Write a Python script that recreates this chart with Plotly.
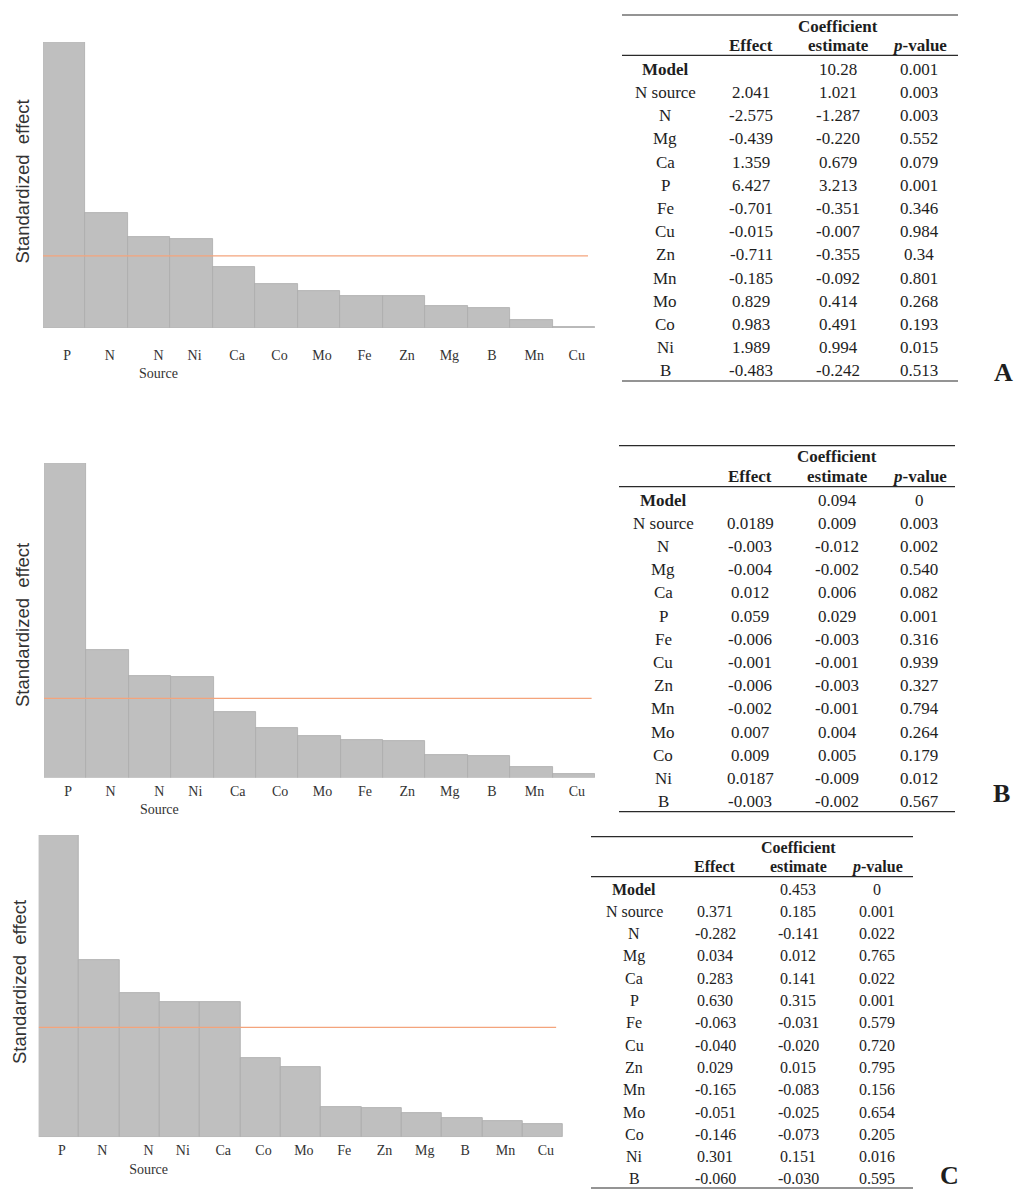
import plotly.graph_objects as go

W, H = 1021, 1190

# ---- Pareto charts of standardized effects (bars sorted as plotted) ----
bar_labels = ["P", "N", "N<br>Source", "Ni", "Ca", "Co", "Mo", "Fe", "Zn", "Mg", "B", "Mn", "Cu"]

effect_a = [7.94, 3.20, 2.54, 2.47, 1.69, 1.22, 1.04, 0.90, 0.88, 0.62, 0.56, 0.23, 0.03]
effect_b = [7.94, 3.23, 2.56, 2.55, 1.66, 1.26, 1.05, 0.95, 0.92, 0.58, 0.55, 0.26, 0.09]
effect_c = [5.50, 3.23, 2.63, 2.47, 2.47, 1.45, 1.28, 0.56, 0.53, 0.44, 0.36, 0.30, 0.25]

threshold_a = 2.0
threshold_b = 2.0
threshold_c = 2.0

# ---- Regression tables ----
row_names = ["Model", "N source", "N", "Mg", "Ca", "P", "Fe", "Cu", "Zn", "Mn", "Mo", "Co", "Ni", "B"]

a_effect = ["", "2.041", "-2.575", "-0.439", "1.359", "6.427", "-0.701", "-0.015", "-0.711",
            "-0.185", "0.829", "0.983", "1.989", "-0.483"]
a_coef = ["10.28", "1.021", "-1.287", "-0.220", "0.679", "3.213", "-0.351", "-0.007", "-0.355",
          "-0.092", "0.414", "0.491", "0.994", "-0.242"]
a_pval = ["0.001", "0.003", "0.003", "0.552", "0.079", "0.001", "0.346", "0.984", "0.34",
          "0.801", "0.268", "0.193", "0.015", "0.513"]

b_effect = ["", "0.0189", "-0.003", "-0.004", "0.012", "0.059", "-0.006", "-0.001", "-0.006",
            "-0.002", "0.007", "0.009", "0.0187", "-0.003"]
b_coef = ["0.094", "0.009", "-0.012", "-0.002", "0.006", "0.029", "-0.003", "-0.001", "-0.003",
          "-0.001", "0.004", "0.005", "-0.009", "-0.002"]
b_pval = ["0", "0.003", "0.002", "0.540", "0.082", "0.001", "0.316", "0.939", "0.327",
          "0.794", "0.264", "0.179", "0.012", "0.567"]

c_effect = ["", "0.371", "-0.282", "0.034", "0.283", "0.630", "-0.063", "-0.040", "0.029",
            "-0.165", "-0.051", "-0.146", "0.301", "-0.060"]
c_coef = ["0.453", "0.185", "-0.141", "0.012", "0.141", "0.315", "-0.031", "-0.020", "0.015",
          "-0.083", "-0.025", "-0.073", "0.151", "-0.030"]
c_pval = ["0", "0.001", "0.022", "0.765", "0.022", "0.001", "0.579", "0.720", "0.795",
          "0.156", "0.654", "0.205", "0.016", "0.595"]

panel_letters = ["A", "B", "C"]

# ---- Layout geometry (pixels) ----
chart_geom = [
    dict(x0=43, x1=595, top=42, base=328, line_end=12.335, standoff=17, title=(22, 181.5)),
    dict(x0=44, x1=595, top=463, base=777.7, line_end=12.42, standoff=3, title=(22, 625)),
    dict(x0=38.7, x1=563, top=835, base=1137.3, line_end=12.33, standoff=3, title=(19.5, 982.5)),
]
# the two-line "N / Source" label sits a little right of its bar
tick_nudge = [0, 0, 0.15, 0, 0, 0, 0, 0, 0, 0, 0, 0, 0]

table_geom = [
    dict(top=15, left=622, right=958, cols=[665, 751, 838, 919], hdr1=26, hdr2=45.7, rule=55.3,
         first=69.3, step=23.2, bottom=381, size=17, letter=(1003, 372)),
    dict(top=445.7, left=619, right=955, cols=[663, 750, 837, 919], hdr1=456.7, hdr2=476.7, rule=486.7,
         first=500, step=23.2, bottom=811.7, size=17, letter=(1001, 793)),
    dict(top=836.7, left=591, right=913, cols=[634, 715, 798, 877], hdr1=847.7, hdr2=866.7, rule=876.7,
         first=889, step=22.3, bottom=1188, size=16, letter=(949, 1175.5)),
]


def px(x):
    return x / W


def py(y):
    return 1 - y / H


SERIF = "Liberation Serif"
SANS = "Liberation Sans"
BAR_FILL = "#bfbfbf"
BAR_EDGE = "#ababab"
REF_LINE = "#f4a47c"
INK = "#1e1e1e"

fig = go.Figure()
annotations = []
shapes = []

effects = [effect_a, effect_b, effect_c]
thresholds = [threshold_a, threshold_b, threshold_c]
tables = [(a_effect, a_coef, a_pval), (b_effect, b_coef, b_pval), (c_effect, c_coef, c_pval)]
positions = list(range(len(bar_labels)))
tick_positions = [p + d for p, d in zip(positions, tick_nudge)]

for i, (vals, thr, g) in enumerate(zip(effects, thresholds, chart_geom)):
    suffix = "" if i == 0 else str(i + 1)
    xa, ya = "x" + suffix, "y" + suffix
    fig.add_trace(go.Bar(
        x=positions, y=vals, xaxis=xa, yaxis=ya, width=1.0,
        marker=dict(color=BAR_FILL, line=dict(color=BAR_EDGE, width=0.8)),
        showlegend=False, hoverinfo="skip",
    ))
    fig.add_trace(go.Scatter(
        x=[-0.5, g["line_end"]], y=[thr, thr], xaxis=xa, yaxis=ya, mode="lines",
        line=dict(color=REF_LINE, width=1.2), showlegend=False, hoverinfo="skip",
    ))
    fig.layout["xaxis" + suffix] = dict(
        domain=[px(g["x0"]), px(g["x1"])], anchor=ya, range=[-0.5, len(bar_labels) - 0.5],
        tickmode="array", tickvals=tick_positions, ticktext=bar_labels, ticks="",
        showgrid=False, zeroline=False, showline=False, ticklabelstandoff=g["standoff"],
        ticklabelshift=3, tickfont=dict(family=SERIF, size=14, color="#333333"),
    )
    fig.layout["yaxis" + suffix] = dict(
        domain=[py(g["base"]), py(g["top"])], anchor=xa, range=[0, max(vals)],
        showgrid=False, zeroline=False, showline=False, showticklabels=False, ticks="",
    )
    tx, ty = g["title"]
    annotations.append(dict(
        text="Standardized  effect", x=px(tx), y=py(ty), xref="paper", yref="paper",
        textangle=-90, showarrow=False, xanchor="center", yanchor="middle",
        font=dict(family=SANS, size=18.5, color="#333333"),
    ))

for (eff, coef, pv), tg, letter in zip(tables, table_geom, panel_letters):
    fs = tg["size"]
    c0, c1, c2, c3 = tg["cols"]

    def cell(text, cx, cy, bold=False, size=fs):
        t = f"<b>{text}</b>" if bold else text
        annotations.append(dict(
            text=t, x=px(cx), y=py(cy), xref="paper", yref="paper", showarrow=False,
            xanchor="center", yanchor="middle", font=dict(family=SERIF, size=size, color=INK),
        ))

    # rules
    for yy in (tg["top"], tg["rule"], tg["bottom"]):
        shapes.append(dict(type="line", xref="paper", yref="paper",
                           x0=px(tg["left"]), x1=px(tg["right"]), y0=py(yy), y1=py(yy),
                           line=dict(color="#2a2a2a", width=1.2)))
    # headers
    cell("Coefficient", c2, tg["hdr1"], bold=True)
    cell("Effect", c1, tg["hdr2"], bold=True)
    cell("estimate", c2, tg["hdr2"], bold=True)
    cell("<i>p</i>-value", c3, tg["hdr2"], bold=True)
    # body
    for r, name in enumerate(row_names):
        yy = tg["first"] + r * tg["step"]
        cell(name, c0, yy, bold=(r == 0))
        if eff[r]:
            cell(eff[r], c1, yy)
        cell(coef[r], c2, yy)
        cell(pv[r], c3, yy)
    lx, ly = tg["letter"]
    cell(letter, lx, ly, bold=True, size=26)

fig.update_layout(
    width=W, height=H, margin=dict(l=0, r=0, t=0, b=0),
    paper_bgcolor="white", plot_bgcolor="white", bargap=0,
    annotations=annotations, shapes=shapes,
)

fig.write_html("out.html")
